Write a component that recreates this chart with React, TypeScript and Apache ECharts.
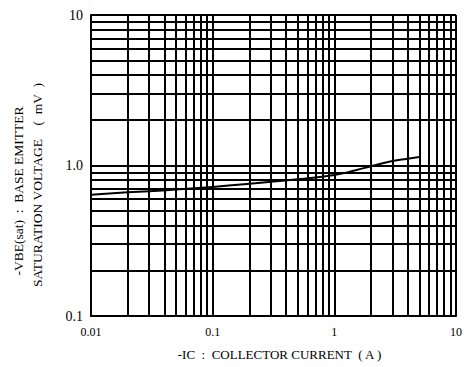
import React, { useEffect, useRef } from "react";
import * as echarts from "echarts";

const currentA = [0.01, 0.02, 0.03, 0.05, 0.1, 0.2, 0.3, 0.5, 1, 1.5, 2, 3, 4, 5];
const vbeSat = [0.64, 0.663, 0.675, 0.692, 0.72, 0.755, 0.78, 0.81, 0.865, 0.93, 0.99, 1.07, 1.11, 1.14];

const xMinorGrid = [0.02, 0.03, 0.04, 0.05, 0.06, 0.07, 0.08, 0.09, 0.2, 0.3, 0.4, 0.5, 0.6, 0.7, 0.8, 0.9, 2, 3, 4, 5, 6, 7, 8, 9];
const yMinorGrid = [0.2, 0.3, 0.4, 0.5, 0.6, 0.7, 0.8, 0.9, 2, 3, 4, 5, 6, 7, 8, 9];
const xTickLabels: Record<string, string> = { "0.01": "0.01", "0.1": "0.1", "1": "1", "10": "10" };
const yTickLabels: Record<string, string> = { "0.1": "0.1", "1": "1.0", "10": "10" };
const yTitleLines = ["-VBE(sat)  :  BASE EMITTER", "SATURATION VOLTAGE    (  mV  )"];

const FONT = "'Liberation Serif', 'Times New Roman', serif";

export default function App() {
  const ref = useRef<HTMLDivElement>(null);
  useEffect(() => {
    if (!ref.current) return;
    const chart = echarts.init(ref.current, undefined, { renderer: "svg" });
    const gridStyle = { color: "#000", width: 2, type: "solid" as const };
    chart.setOption({
      animation: false,
      backgroundColor: "#fff",
      grid: { left: 91, right: 8, top: 15, bottom: 51, containLabel: false, outerBoundsMode: "none" },
      graphic: [
        {
          type: "text",
          x: 18,
          y: 191,
          rotation: Math.PI / 2,
          style: { text: yTitleLines[0], fill: "#000", fontFamily: FONT, fontSize: 13.5, align: "center", verticalAlign: "middle" },
        },
        {
          type: "text",
          x: 37.5,
          y: 185,
          rotation: Math.PI / 2,
          style: { text: yTitleLines[1], fill: "#000", fontFamily: FONT, fontSize: 13.5, align: "center", verticalAlign: "middle" },
        },
      ],
      xAxis: {
        type: "log",
        logBase: 10,
        min: 0.01,
        max: 10,
        axisLine: { show: true, lineStyle: { color: "#000", width: 2 } },
        axisTick: { show: false },
        splitLine: { show: true, lineStyle: gridStyle },
        axisLabel: {
          color: "#000",
          fontFamily: FONT,
          fontSize: 12,
          margin: 10,
          showMaxLabel: true,
          formatter: (v: number) => xTickLabels[String(+v.toPrecision(3))] ?? "",
        },
        name: "-IC  :  COLLECTOR CURRENT  ( A )",
        nameLocation: "middle",
        nameGap: 32,
        nameTextStyle: { color: "#000", fontFamily: FONT, fontSize: 13, padding: [0, 0, 0, 12] },
      },
      yAxis: {
        type: "log",
        logBase: 10,
        min: 0.1,
        max: 10,
        axisLine: { show: true, lineStyle: { color: "#000", width: 2 } },
        axisTick: { show: false },
        splitLine: { show: true, lineStyle: gridStyle },
        axisLabel: {
          color: "#000",
          fontFamily: FONT,
          fontSize: 14,
          margin: 8,
          formatter: (v: number) => yTickLabels[String(+v.toPrecision(3))] ?? "",
        },
      },
      series: [
        {
          type: "line",
          data: currentA.map((x, i) => [x, vbeSat[i]]),
          smooth: true,
          showSymbol: false,
          lineStyle: { color: "#000", width: 2 },
          silent: true,
          z: 5,
          markLine: {
            silent: true,
            symbol: "none",
            label: { show: false },
            lineStyle: gridStyle,
            data: [
              ...xMinorGrid.map((v) => ({ xAxis: v })),
              ...yMinorGrid.map((v) => ({ yAxis: v })),
            ],
          },
        },
      ],
    });
    return () => chart.dispose();
  }, []);
  return <div ref={ref} style={{ position: "absolute", left: 0, top: 0, width: 464, height: 367 }} />;
}
